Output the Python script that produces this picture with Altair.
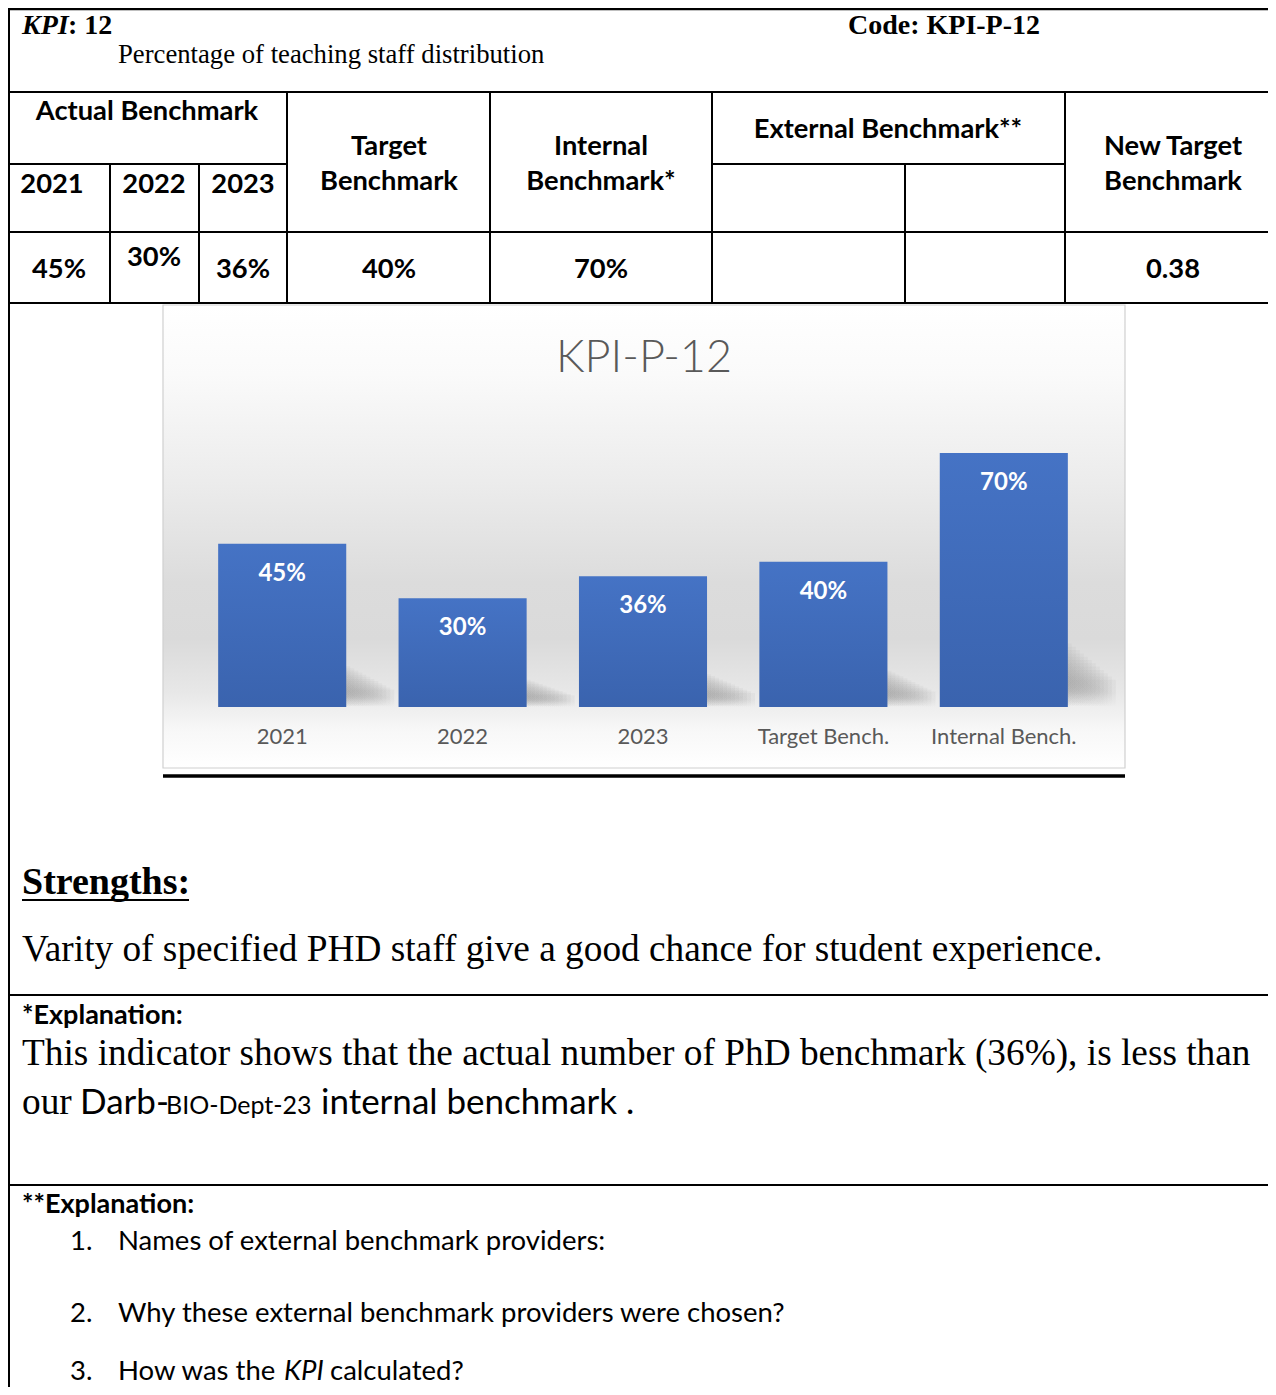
import altair as alt
import pandas as pd

# ---------------- data ----------------
categories = ["2021", "2022", "2023", "Target Bench.", "Internal Bench."]
values = [45, 30, 36, 40, 70]
years = ["2021", "2022", "2023"]
actual = [45, 30, 36]
target_benchmark = 40
internal_benchmark = 70
new_target = 0.38
chart_title = "KPI-P-12"

# ---------------- layout ----------------
W, H = 1260, 1379
OX, OY = 8, 8
SERIF = "Liberation Serif"
SANS = "Lato"


def px(v):
    return v - OX


def py(v):
    return v - OY


def sx():
    return alt.Scale(domain=[OX, OX + W], range=[0, W], nice=False, zero=False)


def sy():
    return alt.Scale(domain=[OY, OY + H], range=[0, H], nice=False, zero=False)


def text_layer(items, **mark):
    df = pd.DataFrame(items, columns=["t", "x", "y"])
    return alt.Chart(df).mark_text(baseline="alphabetic", **mark).encode(
        x=alt.X("x:Q", scale=sx(), axis=None),
        y=alt.Y("y:Q", scale=sy(), axis=None),
        text="t:N",
    )


# ---------- table / page lines ----------
lines = [
    # x1, x2, y1, y2, width
    (8, 1276, 9, 9, 2.5),
    (8, 1276, 92, 92, 2),
    (8, 287, 164, 164, 2),
    (712, 1065, 164, 164, 2),
    (8, 1276, 232, 232, 2),
    (8, 1276, 303, 303, 2),
    (9, 9, 8, 1395, 2),
    (110, 110, 164, 303, 2),
    (199, 199, 164, 303, 2),
    (287, 287, 92, 303, 2),
    (490, 490, 92, 303, 2),
    (712, 712, 92, 303, 2),
    (905, 905, 164, 303, 2),
    (1065, 1065, 92, 303, 2),
    (163, 1125, 776, 776, 3.5),
    (22, 189, 900, 900, 2),
    (8, 1276, 995, 995, 2),
    (8, 1276, 1185, 1185, 2),
]
rule_df = pd.DataFrame(lines, columns=["x", "x2", "y", "y2", "w"])
rules = alt.Chart(rule_df).mark_rule(color="black").encode(
    x=alt.X("x:Q", scale=sx(), axis=None),
    x2="x2:Q",
    y=alt.Y("y:Q", scale=sy(), axis=None),
    y2="y2:Q",
    strokeWidth=alt.StrokeWidth("w:Q", scale=None, legend=None),
)

# ---------- chart background ----------
bg_grad = alt.Gradient(
    gradient="linear",
    stops=[
        alt.GradientStop(color="#ffffff", offset=0),
        alt.GradientStop(color="#fafafa", offset=0.15),
        alt.GradientStop(color="#ececec", offset=0.38),
        alt.GradientStop(color="#dcdcdc", offset=0.6),
        alt.GradientStop(color="#dadada", offset=0.72),
        alt.GradientStop(color="#e8e8e8", offset=0.84),
        alt.GradientStop(color="#f8f8f8", offset=0.92),
        alt.GradientStop(color="#ffffff", offset=1),
    ],
    x1=0, x2=0, y1=0, y2=1,
)
bg_df = pd.DataFrame({"x": [163], "x2": [1125], "y": [305], "y2": [768]})
background = alt.Chart(bg_df).mark_rect(fill=bg_grad, stroke="#d0d0d0", strokeWidth=1.2).encode(
    x=alt.X("x:Q", scale=sx(), axis=None),
    x2="x2:Q",
    y=alt.Y("y:Q", scale=sy(), axis=None),
    y2="y2:Q",
)

# ---------- bar chart (own band / linear scales) ----------
bar_df = pd.DataFrame({"category": categories, "value": values})


def xband():
    return alt.X(
        "category:N",
        sort=categories,
        axis=None,
        scale=alt.Scale(range=[px(192), px(1094)], paddingInner=0.29, paddingOuter=0.145),
    )


def yval(field="value"):
    return alt.Y(
        f"{field}:Q",
        axis=None,
        scale=alt.Scale(domain=[0, 70], range=[py(707), py(453)], nice=False, zero=True),
    )


shadow_grad = alt.Gradient(
    gradient="linear",
    stops=[
        alt.GradientStop(color="#a8a8a8", offset=0),
        alt.GradientStop(color="#9a9a9a", offset=0.5),
        alt.GradientStop(color="#d6d6d6", offset=0.88),
        alt.GradientStop(color="#f2f2f2", offset=1),
    ],
    x1=0, x2=0, y1=0, y2=1,
)
shadow_layers = []
n_sh = 12
for i in range(n_sh):
    off = 4 + i * 4
    frac = 0.25 - i * 0.013
    shadow_layers.append(
        alt.Chart(bar_df)
        .transform_calculate(s=f"datum.value * {frac:.4f}")
        .mark_bar(fill=shadow_grad, xOffset=off, opacity=0.11)
        .encode(x=xband(), y=yval("s"), y2=alt.datum(0))
    )

bar_grad = alt.Gradient(
    gradient="linear",
    stops=[
        alt.GradientStop(color="#4573c5", offset=0),
        alt.GradientStop(color="#3a63ae", offset=1),
    ],
    x1=0, x2=0, y1=0, y2=1,
)
bars = alt.Chart(bar_df).mark_bar(fill=bar_grad).encode(x=xband(), y=yval(), y2=alt.datum(0))

bar_labels = alt.Chart(bar_df).transform_calculate(lbl="datum.value + '%'").mark_text(
    font=SANS, fontWeight="bold", fontSize=24, color="white", baseline="middle", dy=30
).encode(x=xband(), y=yval(), text="lbl:N")

cat_labels = alt.Chart(bar_df).transform_calculate(zero="0").mark_text(
    font=SANS, fontSize=22, color="#595959", baseline="middle", dy=30
).encode(x=xband(), y=yval("zero"), text="category:N")

title = text_layer([(chart_title, 644, 372)], font=SANS, fontSize=45, fontWeight=300,
                   color="#595959", align="center")

# ---------- table texts ----------
t_kpi = text_layer([("KPI", 22, 33.5)], font=SERIF, fontSize=28, fontWeight="bold",
                   fontStyle="italic", align="left")
t_kpi2 = text_layer([(": 12", 68, 33.5)], font=SERIF, fontSize=28, fontWeight="bold",
                    align="left")
t_code = text_layer([("Code: " + chart_title, 944, 33.5)], font=SERIF, fontSize=28,
                    fontWeight="bold", align="center")
t_sub = text_layer([("Percentage of teaching staff distribution", 118, 63)], font=SERIF,
                   fontSize=26.7, align="left")

head_items = [
    ("Actual Benchmark", 147, 120),
    ("Target", 389, 155), ("Benchmark", 389, 190),
    ("Internal", 601, 155), ("Benchmark*", 601, 190),
    ("External Benchmark**", 888, 138),
    ("New Target", 1173, 155), ("Benchmark", 1173, 190),
    (years[0], 52, 193), (years[1], 154, 193), (years[2], 243, 193),
    (f"{actual[0]}%", 59, 278), (f"{actual[1]}%", 154, 266), (f"{actual[2]}%", 243, 278),
    (f"{target_benchmark}%", 389, 278), (f"{internal_benchmark}%", 601, 278),
    (f"{new_target}", 1173, 278),
]
t_head = text_layer(head_items, font=SANS, fontSize=27.3, fontWeight="bold", align="center")

# ---------- lower texts ----------
t_strength = text_layer([("Strengths:", 22, 894)], font=SERIF, fontSize=38, fontWeight="bold",
                        align="left")
t_serif_body = text_layer([
    ("Varity of specified PHD staff give a good chance for student experience.", 22, 961),
    ("This indicator shows that the actual number of PhD benchmark (36%), is less than", 22, 1065),
    ("our", 22, 1114),
], font=SERIF, fontSize=37.3, align="left")
t_expl = text_layer([("*Explanation:", 22, 1024), ("**Explanation:", 22, 1213)], font=SANS,
                    fontSize=27, fontWeight="bold", align="left")
t_darb = text_layer([("Darb-", 80, 1114), ("internal benchmark .", 321, 1114)], font=SANS,
                    fontSize=35, align="left")
t_bio = text_layer([("BIO-Dept-23", 166, 1114)], font=SANS, fontSize=25, align="left")
t_list = text_layer([
    ("1.", 70, 1250), ("2.", 70, 1322), ("3.", 70, 1380),
    ("Names of external benchmark providers:", 118, 1250),
    ("Why these external benchmark providers were chosen?", 118, 1322),
    ("How was the", 118, 1380), ("calculated?", 330, 1380),
], font=SANS, fontSize=27.5, align="left")
t_list_it = text_layer([("KPI", 284, 1380)], font=SANS, fontSize=27.5, fontStyle="italic",
                       align="left")

chart = alt.layer(
    background, *shadow_layers, bars, bar_labels, cat_labels, title,
    rules,
    t_kpi, t_kpi2, t_code, t_sub, t_head,
    t_strength, t_serif_body, t_expl, t_darb, t_bio, t_list, t_list_it,
).resolve_scale(
    x="independent", y="independent"
).properties(
    width=W, height=H, padding=0, autosize=alt.AutoSizeParams(type="none"),
    background="white",
).configure_view(stroke=None)

chart.save("out.html", embed_options={"renderer": "svg", "actions": False})
